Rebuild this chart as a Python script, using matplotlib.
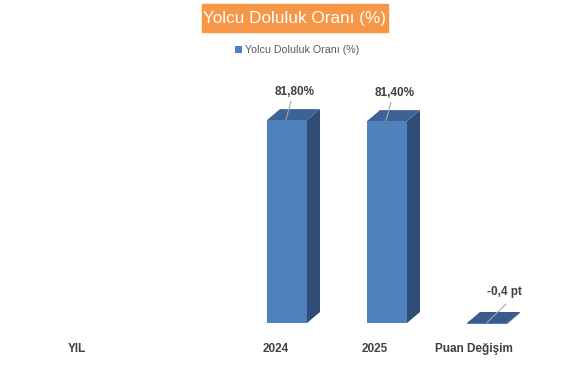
import numpy as np
import matplotlib
matplotlib.use("Agg")
import matplotlib.pyplot as plt
from matplotlib.patches import Polygon, Rectangle

plt.rcParams['font.family'] = ['Liberation Sans', 'DejaVu Sans']

# ---- data ----
categories = ["YIL", "2024", "2025", "Puan Değişim"]
values = [np.nan, 81.8, 81.4, -0.4]
units = ["", "%", "%", " pt"]
series_name = "Yolcu Doluluk Oranı (%)"
title = "Yolcu Doluluk Oranı (%)"

# ---- style ----
front_col = "#4F81BD"
top_col = "#3C6396"
side_col = "#2F4E77"
flat_col = "#385D8A"
text_col = "#404040"

W, H = 587, 365
fig = plt.figure(figsize=(W / 100, H / 100), dpi=100)
ax = fig.add_axes([0, 0, 1, 1])
ppu = 2.48  # pixels per value unit
base_px = 323
ax.set_xlim(-1.87, (W - 187) / 100)
ax.set_ylim(-(H - base_px) / ppu, base_px / ppu)
ax.axis("off")

x = np.arange(len(categories), dtype=float)
bw = 0.40
dx = 0.13
dy = 11 / ppu

vals = np.array(values, dtype=float)
bars = ax.bar(x, vals, width=bw, color=front_col, zorder=3, label=series_name)

for xi, v, u in zip(x, vals, units):
    if np.isnan(v):
        continue
    x0, x1 = xi - bw / 2, xi + bw / 2
    top = max(v, 0)
    bot = min(v, 0)
    col_top = top_col if v > 0 else flat_col
    ax.add_patch(Polygon([(x0, top), (x1, top), (x1 + dx, top + dy), (x0 + dx, top + dy)],
                         closed=True, color=col_top, lw=0, zorder=2))
    ax.add_patch(Polygon([(x1, bot), (x1 + dx, bot + dy), (x1 + dx, top + dy), (x1, top)],
                         closed=True, color=side_col, lw=0, zorder=2))
    if u == "%":
        txt = f"{v:.2f}%".replace(".", ",")
        lx, ly = xi + 0.08, top + 11.3
        l0 = (xi + 0.04, top + 7.6)
        l1 = (xi - 0.01, top + 0.3)
    else:
        txt = f"{v:.1f}{u}".replace(".", ",")
        lx, ly = xi + 0.17, top + 12.5
        l0 = (xi + 0.19, top + 7.6)
        l1 = (xi + 0.0, top + 0.2)
    ax.text(lx, ly, txt, ha="center", va="center", fontsize=8.5,
            fontweight="bold", color=text_col, zorder=5)
    ax.plot([l0[0], l1[0]], [l0[1], l1[1]], color="#A6A6A6", lw=0.8, zorder=4)

# category labels (placed at front of 3D floor)
label_x = [-1.10, 0.89, 1.88, 2.87]
for lxp, c in zip(label_x, categories):
    ax.text(lxp, -(349 - base_px) / ppu, c, ha="center", va="center",
            fontsize=8.5, fontweight="bold", color=text_col)

# title box
bx0, by0, bx1, by1 = 202, 4, 388, 32
fig.patches.append(Rectangle((bx0 / W, 1 - by1 / H), (bx1 - bx0) / W, (by1 - by0) / H,
                             transform=fig.transFigure, color="#F79646", zorder=0))
fig.text(295 / W, 1 - 18.5 / H, title, ha="center", va="center", color="white",
         fontsize=12.3)

# legend
fig.legend(handles=[bars], labels=[series_name], loc="center",
           bbox_to_anchor=(297 / W, 1 - 50 / H), frameon=False, fontsize=7.7,
           handlelength=0.7, handleheight=0.7, handletextpad=0.3,
           labelcolor="#595959")

fig.savefig("out.png", dpi=100)
